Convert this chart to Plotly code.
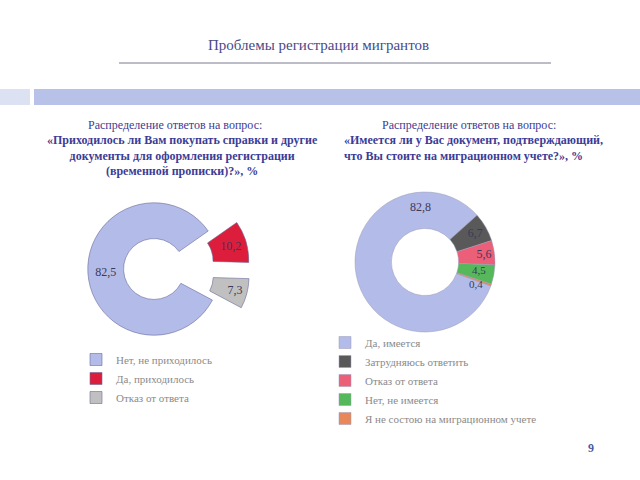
import plotly.graph_objects as go

# Left chart data
left_labels = ["Нет, не приходилось", "Да, приходилось", "Отказ от ответа"]
left_values = [82.5, 10.2, 7.3]
left_colors = ["#b3bce8", "#dc1e3c", "#c0c0c0"]
left_pull = [0, 0.45, 0.45]

# Right chart data (trailing no-break space keeps the shared label distinct)
right_labels = ["Да, имеется", "Затрудняюсь ответить", "Отказ от ответа\u00a0",
                "Нет, не имеется", "Я не состою на миграционном учете"]
right_values = [82.8, 6.7, 5.6, 4.5, 0.4]
right_colors = ["#b3bce8", "#595959", "#ec5f78", "#55b85a", "#e8885a"]

title_text = "Проблемы регистрации мигрантов"
left_q = ["Распределение ответов на вопрос:",
          "<b>«Приходилось ли Вам покупать справки и другие</b>",
          "<b>документы для оформления регистрации</b>",
          "<b>(временной прописки)?», %</b>"]
right_q = ["Распределение ответов на вопрос:",
           "<b>«Имеется ли у Вас документ, подтверждающий,</b>",
           "<b>что Вы стоите на миграционном учете?», %</b>"]
page_no = "9"

SERIF = "Liberation Serif, serif"
TXT = "#3a3a5a"
BLUE_T = "#3c3c96"

def fmt(v):
    return f"{v:.1f}".replace(".", ",")

fig = go.Figure()

fig.add_trace(go.Pie(
    labels=left_labels, values=left_values, sort=False, direction="clockwise",
    rotation=118, hole=0.46, pull=left_pull,
    marker=dict(colors=left_colors, line=dict(color="#6a6a9a", width=0.6)),
    domain=dict(x=[58/640, 250/640], y=[(480-365)/480, (480-173)/480]),
    texttemplate="%{value:.1f}", textposition="inside",
    insidetextorientation="horizontal",
    textfont=dict(family=SERIF, size=12, color=TXT),
    legend="legend", showlegend=True, hoverinfo="label+value",
))

right_tt = ["", "%{value:.1f}", "%{value:.1f}", "", ""]
fig.add_trace(go.Pie(
    labels=right_labels, values=right_values, sort=False, direction="clockwise",
    rotation=110, hole=0.48,
    marker=dict(colors=right_colors, line=dict(color="#9a9ab8", width=0.5)),
    domain=dict(x=[355/640, 495/640], y=[(480-332)/480, (480-192)/480]),
    texttemplate=right_tt, textposition="inside",
    insidetextorientation="horizontal",
    textfont=dict(family=SERIF, size=12, color=TXT),
    legend="legend2", showlegend=True, hoverinfo="label+value",
))

shapes = [
    dict(type="line", xref="paper", yref="paper", x0=119/640, x1=551/640,
         y0=1-63/480, y1=1-63/480, line=dict(color="#7a7a90", width=1)),
    dict(type="rect", xref="paper", yref="paper", x0=0, x1=30/640,
         y0=1-105/480, y1=1-89/480, fillcolor="#dde2f3", line=dict(width=0)),
    dict(type="rect", xref="paper", yref="paper", x0=34/640, x1=1,
         y0=1-105/480, y1=1-89/480, fillcolor="#b8c1e8", line=dict(width=0)),
]

def A(text, x, y, size=12, color=BLUE_T, xanchor="center", align="center"):
    return dict(text=text, x=x/640, y=1-y/480, xref="paper", yref="paper",
                showarrow=False, xanchor=xanchor, yanchor="middle", align=align,
                font=dict(family=SERIF, size=size, color=color))

ann = [
    A(title_text, 318, 45, size=15, color="#4a4a88"),
    A(left_q[0], 175, 125),
    A("<br>".join(left_q[1:]), 182, 156),
    A(right_q[0], 469, 125),
    A("<br>".join(right_q[1:]), 342, 148, xanchor="left", align="left"),
    A(fmt(right_values[0]), 420, 207, size=12, color=TXT),
    A(fmt(right_values[3]), 479, 270, size=11, color=TXT),
    A(fmt(right_values[4]), 476, 284, size=11, color=TXT),
    A("<b>" + page_no + "</b>", 591, 448, size=12, color="#4a5aa0"),
]

leg_font = dict(family=SERIF, size=11, color="#8a8a8a")
fig.update_layout(
    width=640, height=480, margin=dict(l=0, r=0, t=0, b=0),
    paper_bgcolor="white", plot_bgcolor="white",
    separators=", ",
    shapes=shapes, annotations=ann,
    legend=dict(x=76/640, y=1-345/480, xanchor="left", yanchor="top",
                font=leg_font, bgcolor="rgba(0,0,0,0)", traceorder="normal"),
    legend2=dict(x=325/640, y=1-328/480, xanchor="left", yanchor="top",
                 font=leg_font, bgcolor="rgba(0,0,0,0)", traceorder="normal"),
)

fig.write_html("out.html", config={"displayModeBar": False},
               post_script="document.body.style.margin='0px';")
